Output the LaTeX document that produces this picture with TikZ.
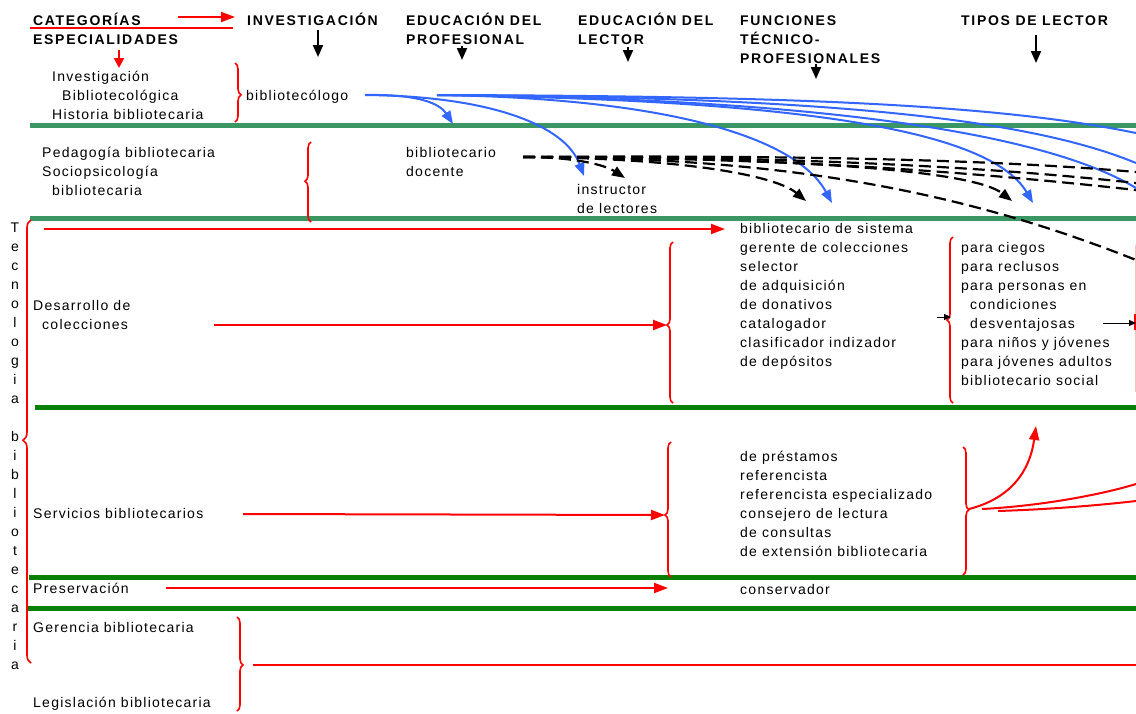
\documentclass[tikz,border=0pt]{standalone}
\usepackage{fontspec}
\setmainfont{Liberation Sans}[LetterSpace=9]
\usetikzlibrary{arrows.meta,decorations.pathreplacing}
\definecolor{gA}{RGB}{58,150,98}
\definecolor{gB}{RGB}{8,128,8}
\definecolor{bl}{RGB}{51,102,255}
\begin{document}
\begin{tikzpicture}[x=1pt,y=-1pt,
  txt/.style={anchor=north west,inner sep=0pt,align=left,font=\fontsize{14}{19}\selectfont},
  hdr/.style={anchor=north west,inner sep=0pt,align=left,font=\fontsize{14}{19}\selectfont\bfseries\addfontfeature{LetterSpace=12}},
  gline/.style={line width=5pt},
  rline/.style={draw=red,line width=2pt},
  rarr/.style={rline,-{Triangle[length=14pt,width=10pt]}},
  karr/.style={draw=black,line width=2pt,-{Triangle[length=12pt,width=10pt]}},
  kthin/.style={draw=black,line width=1pt,-{Triangle[length=7pt,width=6pt]}},
  bline/.style={draw=bl,line width=2pt},
  blarr/.style={bline,-{Triangle[length=13pt,width=10pt]}},
  dline/.style={draw=black,line width=2.2pt,dash pattern=on 12pt off 6pt},
  darr/.style={dline,-{Triangle[length=13pt,width=10pt]}},
  brc/.style={draw=red,line width=1.6pt,decorate,decoration={brace,amplitude=6pt,aspect=#1}},
  bigbrc/.style={draw=red,line width=1.6pt,decorate,decoration={brace,amplitude=8pt,aspect=#1}}]
\useasboundingbox (0,0) rectangle (1136,713);
\fill[white] (0,0) rectangle (1136,713);

% horizontal separators
\draw[gline,draw=gA] (30,125) -- (1136,125);
\draw[gline,draw=gA] (30,218) -- (1136,218);
\draw[gline,draw=gB] (35,407.5) -- (1136,407.5);
\draw[gline,draw=gB] (29,577) -- (1136,577);
\draw[gline,draw=gB] (27,608) -- (1136,608);

% headers
\node[hdr] (hCat) at (33,11.7) {\strut CATEGORÍAS\\\strut ESPECIALIDADES};
\node[hdr] (hInv) at (247,11.7) {\strut INVESTIGACIÓN};
\node[hdr] (hEP) at (406,11.7) {\strut EDUCACIÓN DEL\\\strut PROFESIONAL};
\node[hdr] (hEL) at (578,11.7) {\strut EDUCACIÓN DEL\\\strut LECTOR};
\node[hdr] (hFT) at (740,11.7) {\strut FUNCIONES\\\strut TÉCNICO-\\\strut PROFESIONALES};
\node[hdr] (hTL) at (961,11.7) {\strut TIPOS DE LECTOR};

% texts
\node[txt] (tInv) at (52,67.7) {\strut Investigación\\\strut\hspace*{10pt}Bibliotecológica\\\strut Historia bibliotecaria};
\node[txt] (tBgo) at (246,86.7) {\strut bibliotecólogo};
\node[txt] (tPed) at (42,143.7) {\strut Pedagogía bibliotecaria\\\strut Sociopsicología\\\strut\hspace*{10pt}bibliotecaria};
\node[txt] (tDoc) at (406,143.7) {\strut bibliotecario\\\strut docente};
\node[txt] (tIns) at (577,180.7) {\strut instructor\\\strut de lectores};
\node[txt,align=center,anchor=north] (tTec) at (15,218.7) {\strut T\\\strut e\\\strut c\\\strut n\\\strut o\\\strut l\\\strut o\\\strut g\\\strut i\\\strut a\\\strut\\\strut b\\\strut i\\\strut b\\\strut l\\\strut i\\\strut o\\\strut t\\\strut e\\\strut c\\\strut a\\\strut r\\\strut i\\\strut a};
\node[txt] (tDes) at (33,296.7) {\strut Desarrollo de\\\strut\hspace*{9pt}colecciones};
\node[txt] (tSis) at (740,219.7) {\strut bibliotecario de sistema\\\strut gerente de colecciones\\\strut selector\\\strut de adquisición\\\strut de donativos\\\strut catalogador\\\strut clasificador indizador\\\strut de depósitos};
\node[txt] (tTip) at (961,238.7) {\strut para ciegos\\\strut para reclusos\\\strut para personas en\\\strut\hspace*{9pt}condiciones\\\strut\hspace*{9pt}desventajosas\\\strut para niños y jóvenes\\\strut para jóvenes adultos\\\strut bibliotecario social};
\node[txt] (tSer) at (33,504.7) {\strut Servicios bibliotecarios};
\node[txt] (tSerF) at (740,447.7) {\strut de préstamos\\\strut referencista\\\strut referencista especializado\\\strut consejero de lectura\\\strut de consultas\\\strut de extensión bibliotecaria};
\node[txt] (tPre) at (33,579.7) {\strut Preservación};
\node[txt] (tCon) at (740,580.7) {\strut conservador};
\node[txt] (tGer) at (33,618.7) {\strut Gerencia bibliotecaria};
\node[txt] (tLeg) at (33,693.7) {\strut Legislación bibliotecaria};

% braces
\draw[brc=0.54] (235,63) -- (235,122);
\draw[brc=0.51] (311,222) -- (311,142);
\draw[bigbrc=0.503] (31,663) -- (31,220);
\draw[brc=0.484] (673,403) -- (673,242);
\draw[brc=0.5] (953,403) -- (953,237);
\draw[brc=0.46] (671,577) -- (671,442);
\draw[brc=0.49] (963,447) -- (963,575);
\draw[brc=0.51] (237,617) -- (237,711);

% header arrows
\coordinate (cA1) at (178,17);
\coordinate (cA2) at (235,17);
\draw[rarr] (cA1) -- (cA2);
\draw[rline,line width=2.5pt] ([xshift=-3pt,yshift=3pt]hCat.west) -- ++(203,0);
\coordinate (cR1) at (119,50);
\coordinate (cR2) at (119,68);
\draw[rline,-{Triangle[length=10pt,width=10pt]}] (cR1) -- (cR2);
\coordinate (cK1) at (318,30);  \coordinate (cK2) at (318,57);
\draw[karr] (cK1) -- (cK2);
\coordinate (cK3) at (462,46);  \coordinate (cK4) at (462,60);
\draw[karr] (cK3) -- (cK4);
\coordinate (cK5) at (628,47);  \coordinate (cK6) at (628,62);
\draw[karr] (cK5) -- (cK6);
\coordinate (cK7) at (816,64);  \coordinate (cK8) at (816,79);
\draw[karr] (cK7) -- (cK8);
\coordinate (cK9) at (1036,35); \coordinate (cK10) at (1036,63);
\draw[karr] (cK9) -- (cK10);

% blue curves
\coordinate (bS1) at (365,95);
\coordinate (bS2) at (437,95);
\coordinate (bE1) at (453,124);
\coordinate (bE2) at (584,176);
\coordinate (bE3) at (832,203);
\coordinate (bE4) at (1033,203);
\coordinate (bE5) at (1136,133);
\coordinate (bE6) at (1136,163);
\coordinate (bE7) at (1136,188);
\draw[blarr] (bS1) .. controls (420,94) and (440,104) .. (bE1);
\draw[blarr] (bS1) .. controls (490,96) and (565,125) .. (bE2);
\draw[blarr] (bS2) .. controls (660,98) and (795,135) .. (bE3);
\draw[blarr] (bS2) .. controls (800,100) and (990,130) .. (bE4);
\draw[bline] (bS2) .. controls (800,96) and (1000,105) .. (bE5);
\draw[bline] (bS2) .. controls (800,97) and (1020,115) .. (bE6);
\draw[bline] (bS2) .. controls (800,98) and (1040,130) .. (bE7);

% dashed curves
\coordinate (dS) at (523,157);
\coordinate (dE1) at (625,178);
\coordinate (dE2) at (806,201);
\coordinate (dE3) at (1012,201);
\coordinate (dE4) at (1136,260);
\coordinate (dE5) at (1136,172);
\coordinate (dE6) at (1136,183);
\coordinate (dE7) at (1136,190);
\draw[darr] (dS) .. controls (575,157) and (605,165) .. (dE1);
\draw[darr] (dS) .. controls (680,158) and (775,175) .. (dE2);
\draw[darr] (dS) .. controls (820,158) and (975,172) .. (dE3);
\draw[dline] (dS) .. controls (780,157) and (960,190) .. (dE4);
\draw[dline] (dS) .. controls (800,155) and (1000,160) .. (dE5);
\draw[dline] (dS) .. controls (800,156) and (1000,168) .. (dE6);
\draw[dline] (dS) .. controls (800,157) and (1000,175) .. (dE7);

% red arrows in the body
\coordinate (r1a) at (44,229);  \coordinate (r1b) at (725,229);
\draw[rarr] (r1a) -- (r1b);
\coordinate (r2a) at (214,325); \coordinate (r2b) at (667,325);
\draw[rarr] (r2a) -- (r2b);
\coordinate (r3a) at (243,514); \coordinate (r3b) at (665,515);
\draw[rarr] (r3a) -- (r3b);
\coordinate (r4a) at (166,588); \coordinate (r4b) at (668,588);
\draw[rarr] (r4a) -- (r4b);
\coordinate (r5a) at (253,665); \coordinate (r5b) at (1136,665);
\draw[rline] (r5a) -- (r5b);
\coordinate (rT) at (969,509);
\coordinate (rU) at (1036,426);
\draw[rarr] (rT) .. controls (1012,498) and (1030,470) .. (rU);
\coordinate (rV1) at (982,509); \coordinate (rV2) at (1136,484);
\draw[rline] (rV1) .. controls (1040,506) and (1100,495) .. (rV2);
\coordinate (rW1) at (998,511); \coordinate (rW2) at (1136,501);
\draw[rline] (rW1) .. controls (1060,509) and (1110,504) .. (rW2);

% right edge mark
\draw[red!25,line width=1pt] (1135,245) -- (1135,392);
\draw[red,line width=1.5pt] (1135,314) -- (1135,330);

% small black arrows
\coordinate (k1a) at (937,317); \coordinate (k1b) at (951,317);
\draw[kthin] (k1a) -- (k1b);
\coordinate (k2a) at (1103,323); \coordinate (k2b) at (1136,323);
\draw[kthin] (k2a) -- (k2b);
\end{tikzpicture}
\end{document}
